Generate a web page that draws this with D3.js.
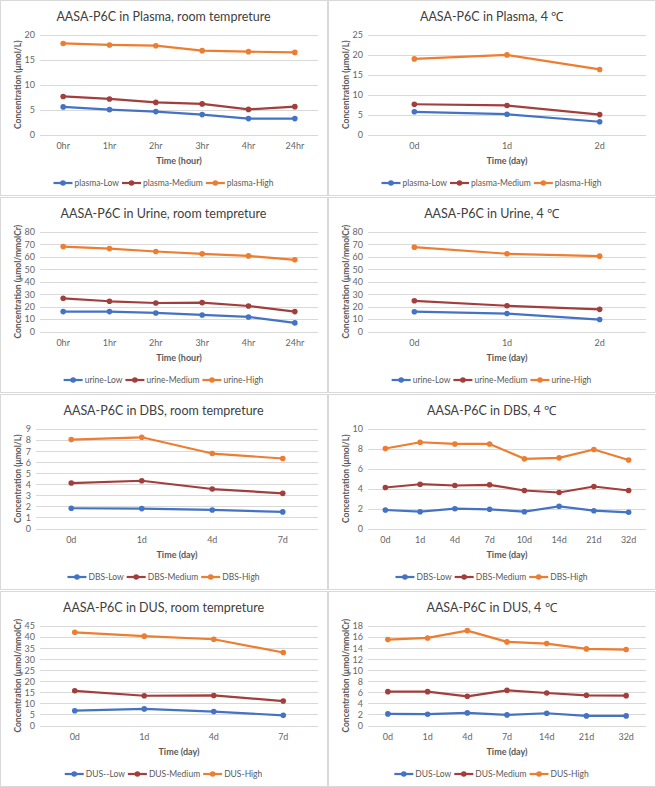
<!DOCTYPE html>
<html><head><meta charset="utf-8">
<script src="https://cdn.jsdelivr.net/npm/d3@7"></script>
<style>body{margin:0;background:#fff}svg{display:block}</style>
</head><body><svg id="c" width="656" height="787"></svg>
<script>
// ---------- data ----------
const hourCats = ["0hr", "1hr", "2hr", "3hr", "4hr", "24hr"];
const day3Cats = ["0d", "1d", "2d"];
const day4Cats = ["0d", "1d", "4d", "7d"];
const dbs4Cats = ["0d", "1d", "4d", "7d", "10d", "14d", "21d", "32d"];
const dus4Cats = ["0d", "1d", "4d", "7d", "14d", "21d", "32d"];

const plasmaRoomLow = [5.55, 5.0, 4.6, 4.0, 3.2, 3.2];
const plasmaRoomMed = [7.65, 7.15, 6.45, 6.15, 5.05, 5.6];
const plasmaRoomHigh = [18.3, 18.0, 17.85, 16.85, 16.65, 16.5];

const plasma4Low = [5.7, 5.1, 3.2];
const plasma4Med = [7.6, 7.3, 5.0];
const plasma4High = [19.0, 20.0, 16.35];

const urineRoomLow = [16.0, 16.0, 14.9, 13.3, 11.7, 6.9];
const urineRoomMed = [26.7, 24.3, 22.9, 23.2, 20.5, 16.0];
const urineRoomHigh = [68.3, 66.7, 64.3, 62.4, 60.8, 57.6];

const urine4Low = [15.9, 14.4, 9.6];
const urine4Med = [24.7, 20.7, 17.8];
const urine4High = [67.8, 62.5, 60.6];

const dbsRoomLow = [1.83, 1.8, 1.68, 1.5];
const dbsRoomMed = [4.11, 4.32, 3.57, 3.18];
const dbsRoomHigh = [8.04, 8.25, 6.78, 6.33];

const dbs4Low = [1.86, 1.69, 1.99, 1.93, 1.69, 2.23, 1.79, 1.63];
const dbs4Med = [4.12, 4.45, 4.32, 4.39, 3.82, 3.62, 4.22, 3.82];
const dbs4High = [8.04, 8.67, 8.5, 8.5, 7.0, 7.1, 7.94, 6.88];

const dusRoomLow = [6.7, 7.5, 6.3, 4.6];
const dusRoomMed = [15.7, 13.45, 13.6, 11.06];
const dusRoomHigh = [42.15, 40.4, 39.0, 33.0];

const dus4Low = [2.1, 2.04, 2.28, 1.92, 2.22, 1.74, 1.74];
const dus4Med = [6.12, 6.12, 5.28, 6.36, 5.88, 5.46, 5.4];
const dus4High = [15.54, 15.84, 17.16, 15.12, 14.82, 13.86, 13.74];

const titles = [
  "AASA-P6C in Plasma, room tempreture", "AASA-P6C in Plasma, 4 \u2103",
  "AASA-P6C in Urine, room tempreture", "AASA-P6C in Urine, 4 \u2103",
  "AASA-P6C in DBS, room tempreture", "AASA-P6C in DBS, 4 \u2103",
  "AASA-P6C in DUS, room tempreture", "AASA-P6C in DUS, 4 \u2103"
];
const yTitles = ["Concentration (\u03bcmol/L)", "Concentration (\u03bcmol/mmolCr)"];
const xTitles = ["Time (hour)", "Time (day)"];
const yMaxes = [20, 25, 80, 80, 9, 10, 45, 18];
const yStepsList = [5, 5, 10, 10, 1, 2, 5, 2];
const legendNames = [
  ["plasma-Low", "plasma-Medium", "plasma-High"],
  ["plasma-Low", "plasma-Medium", "plasma-High"],
  ["urine-Low", "urine-Medium", "urine-High"],
  ["urine-Low", "urine-Medium", "urine-High"],
  ["DBS-Low", "DBS-Medium", "DBS-High"],
  ["DBS-Low", "DBS-Medium", "DBS-High"],
  ["DUS--Low", "DUS-Medium", "DUS-High"],
  ["DUS-Low", "DUS-Medium", "DUS-High"]
];
const colors = ["#4472C4", "#A23F3C", "#ED7D31"];

const panels = [
  {cats: hourCats, series: [plasmaRoomLow, plasmaRoomMed, plasmaRoomHigh], yt: 0, xt: 0},
  {cats: day3Cats, series: [plasma4Low, plasma4Med, plasma4High], yt: 0, xt: 1},
  {cats: hourCats, series: [urineRoomLow, urineRoomMed, urineRoomHigh], yt: 1, xt: 0},
  {cats: day3Cats, series: [urine4Low, urine4Med, urine4High], yt: 1, xt: 1},
  {cats: day4Cats, series: [dbsRoomLow, dbsRoomMed, dbsRoomHigh], yt: 0, xt: 1, left: 36},
  {cats: dbs4Cats, series: [dbs4Low, dbs4Med, dbs4High], yt: 0, xt: 1},
  {cats: day4Cats, series: [dusRoomLow, dusRoomMed, dusRoomHigh], yt: 1, xt: 1},
  {cats: dus4Cats, series: [dus4Low, dus4Med, dus4High], yt: 1, xt: 1}
];

// ---------- drawing ----------
const svg = d3.select("#c");
const font = "Lato, 'Open Sans', sans-serif";
const colX = [0, 328], rowY = [0, 197, 394, 591];
const PW = 327, PH = 195;

panels.forEach((p, i) => {
  const x0 = colX[i % 2], y0 = rowY[Math.floor(i / 2)];
  const g = svg.append("g").attr("transform", `translate(${x0},${y0})`);
  g.append("rect").attr("x", 0.5).attr("y", 0.5).attr("width", PW).attr("height", PH)
    .attr("fill", "#fff").attr("stroke", "#d9d9d9");

  const left = p.left || 40, right = 318, top = 35, bottom = 134.5;
  const x = d3.scaleBand().domain(p.cats).range([left, right]);
  const y = d3.scaleLinear().domain([0, yMaxes[i]]).range([bottom, top]);
  const ticks = d3.range(0, yMaxes[i] + 0.001, yStepsList[i]);

  // gridlines
  g.append("g").selectAll("line").data(ticks).join("line")
    .attr("x1", left).attr("x2", right)
    .attr("y1", d => Math.round(y(d)) + 0.5).attr("y2", d => Math.round(y(d)) + 0.5)
    .attr("stroke", "#d9d9d9").attr("stroke-width", 1);

  // y axis labels
  const yAxis = d3.axisLeft(y).tickValues(ticks).tickSize(0).tickPadding(5);
  const ya = g.append("g").attr("transform", `translate(${left},0)`).call(yAxis);
  ya.select(".domain").remove();
  ya.selectAll("text").attr("font-family", font).attr("font-size", 9).attr("fill", "#666");

  // x axis labels
  const xAxis = d3.axisBottom(x).tickSize(0).tickPadding(8);
  const xa = g.append("g").attr("transform", `translate(0,${bottom})`).call(xAxis);
  xa.select(".domain").remove();
  xa.selectAll("text").attr("font-family", font).attr("font-size", 9).attr("fill", "#666");

  // title
  g.append("text").attr("x", PW / 2).attr("y", 21).attr("text-anchor", "middle")
    .attr("font-family", font).attr("font-size", 12.5).attr("fill", "#404040")
    .text(titles[i]);

  // axis titles
  g.append("text").attr("x", (left + right) / 2).attr("y", 163.5).attr("text-anchor", "middle")
    .attr("font-family", font).attr("font-size", 9).attr("font-weight", "bold").attr("fill", "#595959")
    .text(xTitles[p.xt]);
  g.append("text").attr("transform", `translate(21,${(top + bottom) / 2}) rotate(-90)`)
    .attr("text-anchor", "middle")
    .attr("font-family", font).attr("font-size", 8.5).attr("font-weight", "bold").attr("fill", "#595959")
    .text(yTitles[p.yt]);

  // series
  const line = d3.line().x((d, j) => x(p.cats[j]) + x.bandwidth() / 2).y(d => y(d));
  p.series.forEach((s, k) => {
    g.append("path").datum(s).attr("d", line).attr("fill", "none")
      .attr("stroke", colors[k]).attr("stroke-width", 2.2).attr("stroke-linejoin", "round");
    g.append("g").selectAll("circle").data(s).join("circle")
      .attr("cx", (d, j) => x(p.cats[j]) + x.bandwidth() / 2).attr("cy", d => y(d))
      .attr("r", 2.8).attr("fill", colors[k]);
  });

  // legend
  const lg = g.append("g");
  const items = legendNames[i].map((name, k) => {
    const it = lg.append("g");
    it.append("line").attr("x1", 0).attr("x2", 19).attr("y1", 0).attr("y2", 0)
      .attr("stroke", colors[k]).attr("stroke-width", 2.2);
    it.append("circle").attr("cx", 9.5).attr("cy", 0).attr("r", 2.8).attr("fill", colors[k]);
    const t = it.append("text").attr("x", 21).attr("y", 3.1)
      .attr("font-family", font).attr("font-size", 8.5).attr("fill", "#595959").text(name);
    return {it, w: 21 + t.node().getComputedTextLength()};
  });
  const gap = 3;
  const total = d3.sum(items, d => d.w) + gap * (items.length - 1);
  let cx = PW / 2 - total / 2;
  items.forEach(d => { d.it.attr("transform", `translate(${cx},183)`); cx += d.w + gap; });
});
</script></body></html>
